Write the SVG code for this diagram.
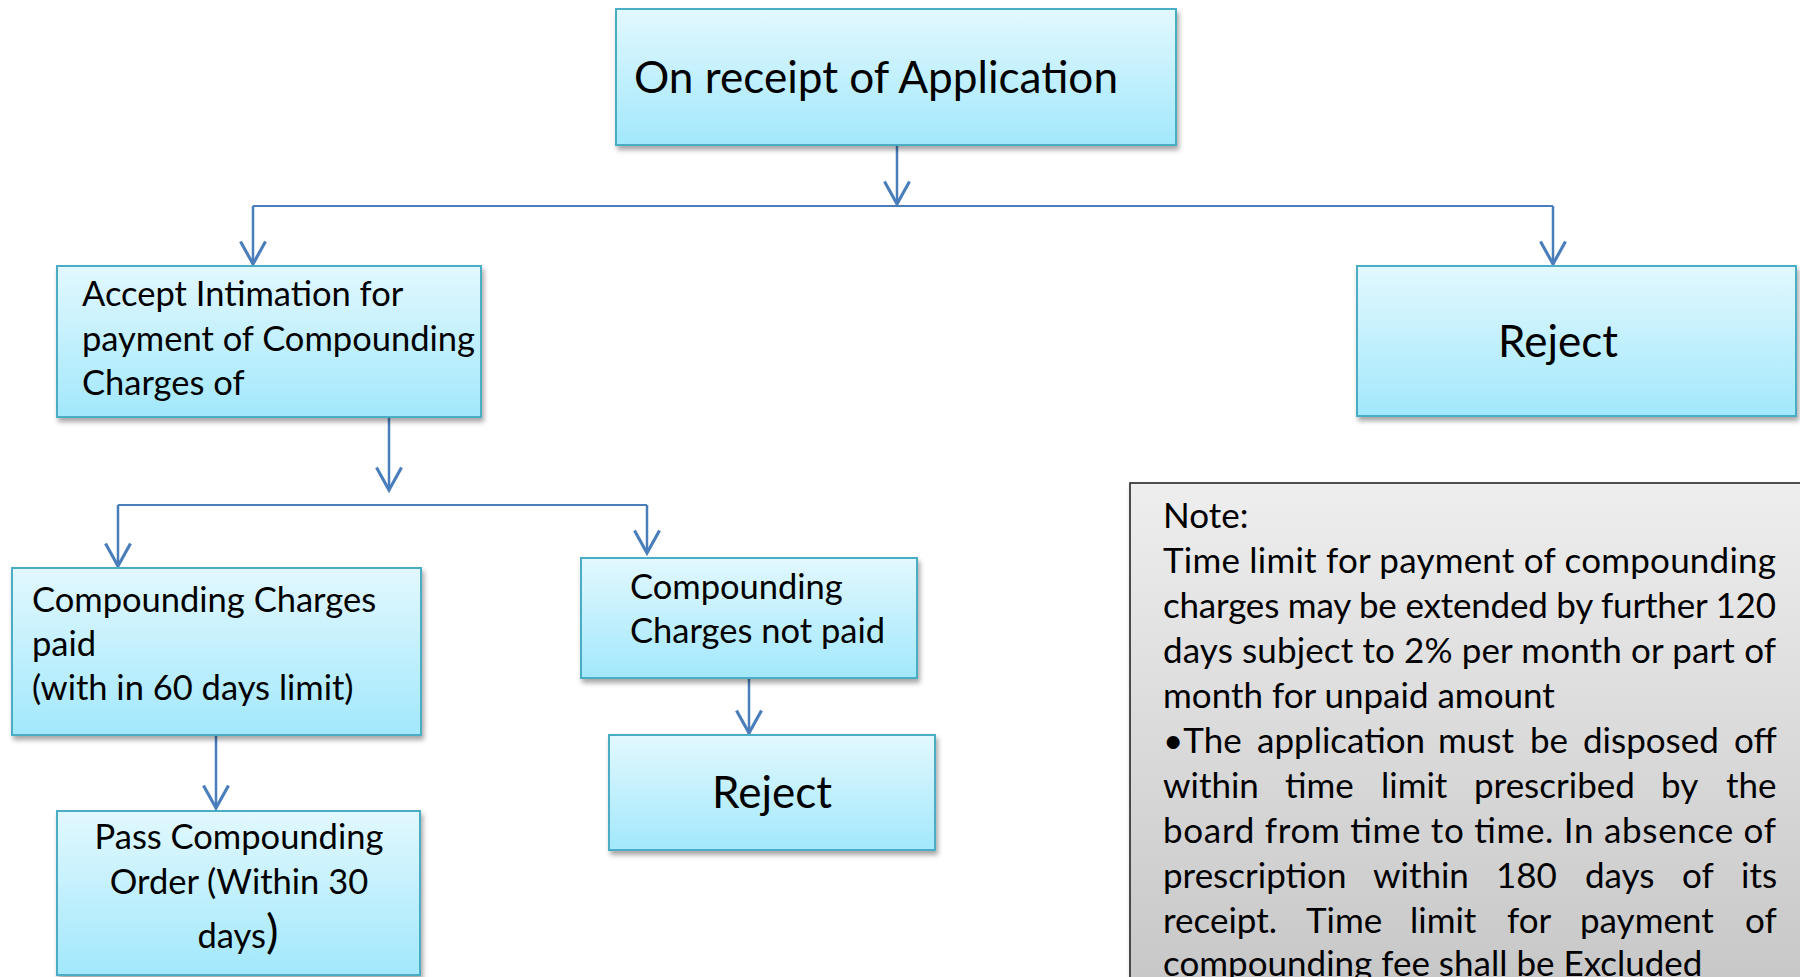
<svg xmlns="http://www.w3.org/2000/svg" width="1800" height="977" viewBox="0 0 1800 977">
  <defs>
    <linearGradient id="blueFill" x1="0" y1="0" x2="0" y2="1">
      <stop offset="0" stop-color="#e2f8fe"/>
      <stop offset="1" stop-color="#a2e8fc"/>
    </linearGradient>
    <linearGradient id="greyFill" x1="0" y1="0" x2="0" y2="1">
      <stop offset="0" stop-color="#eeeeee"/>
      <stop offset="1" stop-color="#c6c6c6"/>
    </linearGradient>
    <filter id="shadow" x="-5%" y="-5%" width="115%" height="125%">
      <feDropShadow dx="2" dy="4" stdDeviation="2.5" flood-color="#000" flood-opacity="0.35"/>
    </filter>
    <marker id="arrow" markerUnits="userSpaceOnUse" orient="auto" refX="0" refY="0" markerWidth="30" markerHeight="30" viewBox="-20 -12 22 24" overflow="visible">
      <path d="M-18,-10 L0,0 L-18,10" fill="none" stroke="#4a7ebb" stroke-width="2.5" stroke-linejoin="miter"/>
    </marker>
    <style>
      .box { fill: url(#blueFill); stroke: #4bacc6; stroke-width: 2; filter: url(#shadow); }
      .note { fill: url(#greyFill); stroke: #262626; stroke-width: 1.6; filter: url(#shadow); }
      .t { font-family: Lato, "Liberation Sans", sans-serif; font-size: 34.5px; fill: #000; }
      .n { font-family: Lato, "Liberation Sans", sans-serif; font-size: 35px; fill: #000; }
      .big { font-family: Lato, "Liberation Sans", sans-serif; font-size: 44px; fill: #000; }
      .conn { fill: none; stroke: #4a7ebb; stroke-width: 2.5; }
      .bar { fill: none; stroke: #4a7ebb; stroke-width: 2; }
    </style>
  </defs>

  <rect width="1800" height="977" fill="#ffffff"/>

  <g id="connectors">
    <path class="conn" d="M897,145 V204" marker-end="url(#arrow)"/>
    <path class="bar" d="M253,206 H1553"/>
    <path class="conn" d="M253,206 V264" marker-end="url(#arrow)"/>
    <path class="conn" d="M1553,206 V264" marker-end="url(#arrow)"/>
    <path class="conn" d="M389,417 V490" marker-end="url(#arrow)"/>
    <path class="bar" d="M118,505 H647"/>
    <path class="conn" d="M118,505 V566" marker-end="url(#arrow)"/>
    <path class="conn" d="M647,505 V553" marker-end="url(#arrow)"/>
    <path class="conn" d="M216,735 V808" marker-end="url(#arrow)"/>
    <path class="conn" d="M749,678 V733" marker-end="url(#arrow)"/>
  </g>

  <g id="node-receipt">
    <rect class="box" x="616" y="9" width="560" height="136"/>
    <text class="big" x="634" y="93" textLength="484" lengthAdjust="spacingAndGlyphs">On receipt of Application</text>
  </g>

  <g id="node-accept">
    <rect class="box" x="57" y="266" width="424" height="151"/>
    <text class="t" x="82" y="306">Accept Intimation for</text>
    <text class="t" x="82" y="351" textLength="393" lengthAdjust="spacingAndGlyphs">payment of Compounding</text>
    <text class="t" x="82" y="395">Charges of</text>
  </g>

  <g id="node-reject-1">
    <rect class="box" x="1357" y="266" width="439" height="150"/>
    <text class="big" x="1558" y="357" text-anchor="middle">Reject</text>
  </g>

  <g id="node-paid">
    <rect class="box" x="12" y="568" width="409" height="167"/>
    <text class="t" x="32" y="612">Compounding Charges</text>
    <text class="t" x="32" y="656">paid</text>
    <text class="t" x="32" y="700">(with in 60 days limit)</text>
  </g>

  <g id="node-not-paid">
    <rect class="box" x="581" y="558" width="336" height="120"/>
    <text class="t" x="630" y="599">Compounding</text>
    <text class="t" x="630" y="643">Charges not paid</text>
  </g>

  <g id="node-pass-order">
    <rect class="box" x="57" y="811" width="363" height="164"/>
    <text class="t" x="239" y="849" text-anchor="middle">Pass Compounding</text>
    <text class="t" x="239" y="894" text-anchor="middle">Order (Within 30</text>
    <text class="t" x="238" y="948" text-anchor="middle">days<tspan font-size="47">)</tspan></text>
  </g>

  <g id="node-reject-2">
    <rect class="box" x="609" y="735" width="326" height="115"/>
    <text class="big" x="772" y="808" text-anchor="middle">Reject</text>
  </g>

  <g id="node-note">
    <rect class="note" x="1130" y="483" width="690" height="520"/>
    <text class="n" x="1163" y="528">Note:</text>
    <text class="n" x="1163" y="573" textLength="613" lengthAdjust="spacing">Time limit for payment of compounding</text>
    <text class="n" x="1163" y="618" textLength="613" lengthAdjust="spacing">charges may be extended by further 120</text>
    <text class="n" x="1163" y="663" textLength="613" lengthAdjust="spacing">days subject to 2% per month or part of</text>
    <text class="n" x="1163" y="708">month for unpaid amount</text>
    <text class="n" y="753"><tspan x="1163">•The</tspan><tspan x="1257">application</tspan><tspan x="1438">must</tspan><tspan x="1530">be</tspan><tspan x="1583">disposed</tspan><tspan x="1734">off</tspan></text>
    <text class="n" y="798"><tspan x="1163">within</tspan><tspan x="1285">time</tspan><tspan x="1381">limit</tspan><tspan x="1474">prescribed</tspan><tspan x="1661">by</tspan><tspan x="1726">the</tspan></text>
    <text class="n" x="1163" y="843" textLength="613" lengthAdjust="spacing">board from time to time. In absence of</text>
    <text class="n" y="888"><tspan x="1163">prescription</tspan><tspan x="1373">within</tspan><tspan x="1496">180</tspan><tspan x="1585">days</tspan><tspan x="1682">of</tspan><tspan x="1741">its</tspan></text>
    <text class="n" y="933"><tspan x="1163">receipt.</tspan><tspan x="1306">Time</tspan><tspan x="1410">limit</tspan><tspan x="1507">for</tspan><tspan x="1580">payment</tspan><tspan x="1745">of</tspan></text>
    <text class="n" x="1163" y="976">compounding fee shall be Excluded</text>
  </g>
</svg>
